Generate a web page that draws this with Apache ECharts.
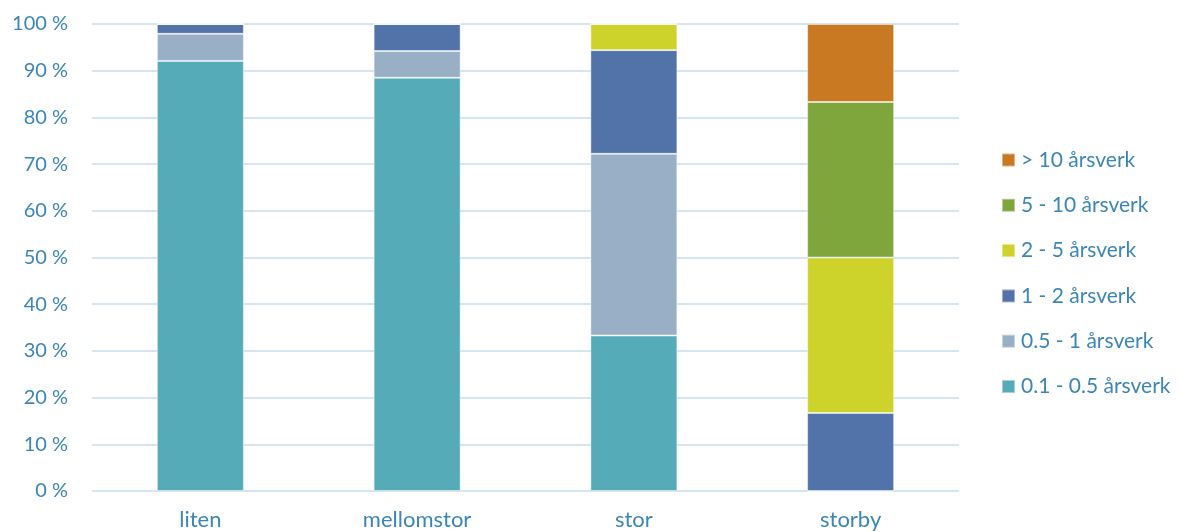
<!DOCTYPE html>
<html>
<head>
<meta charset="utf-8">
<script src="https://cdn.jsdelivr.net/npm/echarts@6/dist/echarts.min.js"></script>
<style>
  html, body { margin: 0; padding: 0; background: #fff; }
  #chart { width: 1179px; height: 532px; }
</style>
</head>
<body>
<div id="chart"></div>
<script>
// Municipality size groups
const categories = ['liten', 'mellomstor', 'stor', 'storby'];

// Share (%) of units in each staffing band, per group
const band01_05 = [92.1, 88.5, 33.3, 0];
const band05_1  = [5.8, 5.7, 38.9, 0];
const band1_2   = [2.1, 5.8, 22.2, 16.7];
const band2_5   = [0, 0, 5.6, 33.3];
const band5_10  = [0, 0, 0, 33.3];
const band10    = [0, 0, 0, 16.7];

const seriesNames = ['0.1 - 0.5 årsverk', '0.5 - 1 årsverk', '1 - 2 årsverk',
                     '2 - 5 årsverk', '5 - 10 årsverk', '> 10 årsverk'];
const seriesData = [band01_05, band05_1, band1_2, band2_5, band5_10, band10];
const colors = ['#55acb8', '#98afc6', '#5173aa', '#cdd32b', '#7fa63d', '#c97922'];

const textColor = '#3a86b7';
const font = 'Lato, "Open Sans", sans-serif';

const chart = echarts.init(document.getElementById('chart'), null, { renderer: 'canvas' });
chart.setOption({
  animation: false,
  color: colors,
  grid: { left: 92, right: 220, top: 24, bottom: 41, containLabel: false },
  legend: {
    orient: 'vertical',
    left: 996,
    top: 143,
    data: seriesNames.slice().reverse(),
    icon: 'rect',
    itemWidth: 13,
    itemHeight: 13,
    itemGap: 21.3,
    textStyle: { color: textColor, fontSize: 21, fontFamily: font, lineHeight: 24, padding: [0, 0, 0, 1] }
  },
  xAxis: {
    type: 'category',
    data: categories,
    axisLine: { show: false },
    axisTick: { show: false },
    axisLabel: { color: textColor, fontSize: 22, fontFamily: font, margin: 18 }
  },
  yAxis: {
    type: 'value',
    min: 0,
    max: 100,
    interval: 10,
    axisLine: { show: false },
    axisTick: { show: false },
    axisLabel: { color: textColor, fontSize: 20, fontFamily: font, margin: 24, formatter: '{value} %' },
    splitLine: { lineStyle: { color: '#d5e6f3', width: 2 } }
  },
  series: seriesNames.map((name, i) => ({
    name,
    type: 'bar',
    stack: 'total',
    barWidth: 87,
    data: seriesData[i],
    itemStyle: { borderColor: 'rgba(255,255,255,0.45)', borderWidth: 1 }
  }))
});
</script>
</body>
</html>
